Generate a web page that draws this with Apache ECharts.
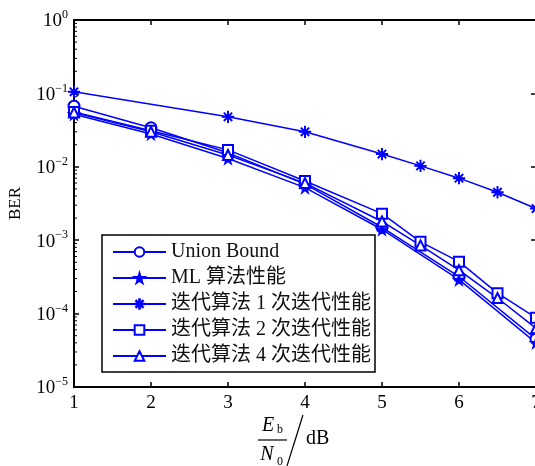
<!DOCTYPE html>
<html>
<head>
<meta charset="utf-8">
<script src="https://cdn.jsdelivr.net/npm/echarts@6/dist/echarts.min.js"></script>
<style>
  html, body { margin: 0; padding: 0; background: #fff; }
  #chart { width: 535px; height: 466px; }
</style>
</head>
<body>
<div id="chart"></div>
<script>
// Eb/N0 points (dB) used by each curve
const snrInt = [1, 2, 3, 4, 5, 6, 7];
const snrIter1 = [1, 3, 4, 5, 5.5, 6, 6.5, 7];
const snrHalf = [1, 2, 3, 4, 5, 5.5, 6, 6.5, 7];

// Bit error rates
const unionBound = [0.067, 0.034, 0.0155, 0.0058, 0.0015, 0.00032, 0.000045];
const mlBer = [0.052, 0.028, 0.013, 0.0052, 0.0014, 0.00029, 0.00004];
const iter1Ber = [0.105, 0.048, 0.030, 0.0149, 0.0103, 0.0070, 0.0045, 0.0027];
const iter2Ber = [0.056, 0.031, 0.017, 0.0064, 0.0023, 0.00095, 0.00051, 0.00019, 0.000088];
const iter4Ber = [0.055, 0.030, 0.0145, 0.0060, 0.0018, 0.00085, 0.00039, 0.000163, 0.000063];

const seriesNames = ['Union Bound', 'ML 算法性能', '迭代算法 1 次迭代性能', '迭代算法 2 次迭代性能', '迭代算法 4 次迭代性能'];
const xTicks = [1, 2, 3, 4, 5, 6, 7];

const SERIF = '"Liberation Serif", "Times New Roman", "Noto Sans CJK SC", serif';
const BLUE = '#0000ff';

// filled five-point star and eight-arm asterisk markers
const STAR = 'path://M50,0 L61,35 L98,35 L68,57 L79,91 L50,70 L21,91 L32,57 L2,35 L39,35 Z';
const ASTERISK = 'path://M47,0 L53,0 L53,100 L47,100 Z M0,47 L100,47 L100,53 L0,53 Z ' +
  'M14,18 L18,14 L86,82 L82,86 Z M82,14 L86,18 L18,86 L14,82 Z';

// log-scale minor tick positions on the left axis (2..9 times each decade)
const minorTicks = [];
for (let d = -5; d < 0; d++) {
  for (let k = 2; k <= 9; k++) minorTicks.push([1, k * Math.pow(10, d)]);
}

function pairs(xs, ys) { return xs.map((x, i) => [x, ys[i]]); }

function lineSeries(name, xs, ys, symbol, size) {
  return {
    name: name, type: 'line', data: pairs(xs, ys),
    symbol: symbol, symbolSize: size,
    xAxisIndex: 0, yAxisIndex: 0,
    lineStyle: { color: BLUE, width: 1.5 },
    itemStyle: { color: BLUE, borderColor: BLUE, borderWidth: 1.3 },
    emphasis: { disabled: true },
    animation: false
  };
}

const axisLine = { show: true, lineStyle: { color: '#000', width: 2 } };
const axisTick = { show: true, inside: true, length: 5, lineStyle: { color: '#000', width: 1.5 } };

const chart = echarts.init(document.getElementById('chart'), null, { renderer: 'canvas' });

chart.setOption({
  backgroundColor: '#fff',
  animation: false,
  grid: { left: 74, right: -1, top: 20, bottom: 79, containLabel: false, outerBoundsMode: 'none' },
  xAxis: [
    {
      type: 'value', min: 1, max: 7, interval: 1, position: 'bottom',
      axisLine: axisLine, axisTick: axisTick, splitLine: { show: false },
      axisLabel: {
        color: '#000', fontSize: 19, fontFamily: SERIF, margin: 7,
        customValues: xTicks
      }
    },
    {
      type: 'value', min: 1, max: 7, interval: 1, position: 'top',
      axisLine: axisLine, axisTick: axisTick, splitLine: { show: false },
      axisLabel: { show: false }
    }
  ],
  yAxis: [
    {
      type: 'log', logBase: 10, min: 1e-5, max: 1, position: 'left',
      axisLine: axisLine, axisTick: axisTick, splitLine: { show: false },
      name: 'BER', nameLocation: 'middle', nameGap: 50, nameRotate: 90,
      nameTextStyle: { color: '#000', fontSize: 17, fontFamily: SERIF },
      axisLabel: {
        margin: 6,
        formatter: function (v) {
          const e = Math.round(Math.log10(v));
          return '{b|10}{s|' + (e === 0 ? '0' : '\u2212' + (-e)) + '}';
        },
        rich: {
          b: { fontSize: 19, fontFamily: SERIF, color: '#000', lineHeight: 22, verticalAlign: 'bottom' },
          s: { fontSize: 12, fontFamily: SERIF, color: '#000', lineHeight: 12, verticalAlign: 'top' }
        }
      }
    },
    {
      type: 'log', logBase: 10, min: 1e-5, max: 1, position: 'right',
      axisLine: axisLine, axisTick: axisTick, splitLine: { show: false },
      axisLabel: { show: false }
    }
  ],
  legend: {
    data: seriesNames,
    orient: 'vertical', left: 102, top: 235,
    backgroundColor: '#fff', borderColor: '#000', borderWidth: 1.5, borderRadius: 0,
    padding: [7, 4, 6, 10],
    itemWidth: 53, itemHeight: 12, itemGap: 6,
    textStyle: { fontSize: 20, fontFamily: SERIF, color: '#111', lineHeight: 20 },
    selectedMode: false
  },
  series: [
    lineSeries(seriesNames[0], snrInt, unionBound, 'emptyCircle', 11),
    lineSeries(seriesNames[1], snrInt, mlBer, STAR, 11),
    lineSeries(seriesNames[2], snrIter1, iter1Ber, ASTERISK, 11),
    lineSeries(seriesNames[3], snrHalf, iter2Ber, 'emptyRect', 10),
    lineSeries(seriesNames[4], snrHalf, iter4Ber, 'emptyTriangle', 10),
    {
      // minor ticks along the left log axis
      type: 'custom', silent: true, clip: false, animation: false,
      xAxisIndex: 0, yAxisIndex: 0,
      data: minorTicks,
      renderItem: function (params, api) {
        const l = api.coord([1, api.value(1)]);
        return {
          type: 'line',
          shape: { x1: l[0], y1: l[1], x2: l[0] + 3, y2: l[1] },
          style: { stroke: '#000', lineWidth: 1 }
        };
      }
    }
  ],
  graphic: [
    { type: 'text', x: 268, y: 426, style: { text: 'E', font: 'italic 20px ' + SERIF, fill: '#000', align: 'center', verticalAlign: 'middle', textAlign: 'center', textVerticalAlign: 'middle' } },
    { type: 'text', x: 280, y: 430, style: { text: 'b', font: '12px ' + SERIF, fill: '#000', align: 'center', verticalAlign: 'middle', textAlign: 'center', textVerticalAlign: 'middle' } },
    { type: 'line', shape: { x1: 258, y1: 440, x2: 287, y2: 440 }, style: { stroke: '#000', lineWidth: 1.2 } },
    { type: 'text', x: 267, y: 455, style: { text: 'N', font: 'italic 20px ' + SERIF, fill: '#000', align: 'center', verticalAlign: 'middle', textAlign: 'center', textVerticalAlign: 'middle' } },
    { type: 'text', x: 280, y: 462, style: { text: '0', font: '12px ' + SERIF, fill: '#000', align: 'center', verticalAlign: 'middle', textAlign: 'center', textVerticalAlign: 'middle' } },
    { type: 'line', shape: { x1: 303, y1: 415, x2: 287, y2: 466 }, style: { stroke: '#000', lineWidth: 1.2 } },
    { type: 'text', x: 306, y: 439, style: { text: 'dB', font: '20px ' + SERIF, fill: '#000', align: 'left', verticalAlign: 'middle', textAlign: 'left', textVerticalAlign: 'middle' } }
  ]
});
</script>
</body>
</html>
